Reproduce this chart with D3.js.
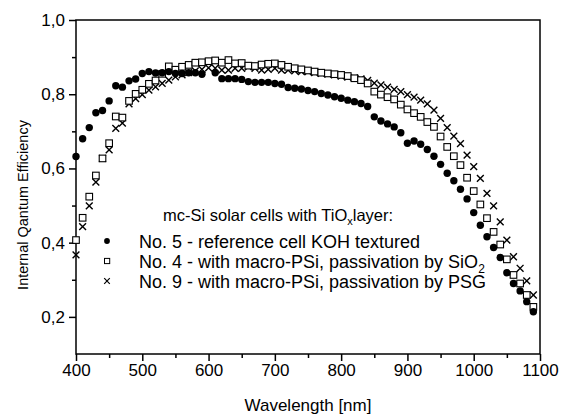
<!DOCTYPE html>
<html>
<head>
<meta charset="utf-8">
<script src="https://cdn.jsdelivr.net/npm/d3@7"></script>
<style>
  body { margin: 0; background: #fff; }
  text { font-family: "Liberation Sans", Arial, sans-serif; fill: #000; }
</style>
</head>
<body>
<div id="chart"></div>
<script>
// wavelength grid [nm]
var wl = [400,410,420,430,440,450,460,470,480,490,500,510,520,530,540,550,560,570,580,590,600,
  610,620,630,640,650,660,670,680,690,700,710,720,730,740,750,760,770,780,790,800,
  810,820,830,840,850,860,870,880,890,900,910,920,930,940,950,960,970,980,990,1000,
  1010,1020,1030,1040,1050,1060,1070,1080,1090];

// No. 5 - reference (filled circles), null = no point
var iqe5 = [0.632,0.680,0.710,0.750,0.756,0.782,0.823,0.819,0.836,0.841,0.856,0.861,0.857,0.858,0.861,0.856,0.856,0.858,0.858,0.854,null,
  0.858,0.842,0.842,0.842,0.840,0.834,0.832,0.832,0.832,0.829,0.827,0.818,0.816,0.814,0.810,0.807,0.802,0.798,0.793,0.789,
  0.784,0.780,0.775,0.767,0.739,0.728,0.720,0.712,0.696,0.668,0.674,0.665,0.651,0.633,0.611,0.587,0.567,0.544,0.518,0.481,
  0.447,0.416,0.387,0.360,0.319,0.290,0.270,0.241,0.214];

// No. 4 - SiO2 (open squares)
var iqe4 = [0.407,0.467,0.524,0.581,0.627,0.668,0.740,0.737,0.782,0.801,0.812,0.828,0.837,0.855,0.875,0.866,0.874,0.879,0.885,0.886,0.889,
  0.891,0.885,0.892,0.883,0.884,0.877,0.876,0.880,0.882,0.883,0.879,0.874,0.870,0.867,0.864,0.861,0.858,0.856,0.854,0.852,
  0.849,0.843,0.838,0.829,0.807,0.799,0.792,0.786,0.772,0.759,0.749,0.739,0.725,0.712,0.686,0.658,0.633,0.609,0.575,0.539,
  0.503,0.466,0.429,0.395,0.355,0.313,0.290,0.259,0.227];

// No. 9 - PSG (crosses)
var iqe9 = [0.367,0.443,0.499,0.563,0.627,0.650,0.708,0.722,0.774,0.788,0.799,0.811,0.820,0.829,0.838,0.847,0.852,0.858,0.863,0.867,0.871,
  0.870,0.865,0.865,0.870,0.870,0.874,0.870,0.865,0.867,0.870,0.865,0.865,0.863,0.861,0.861,0.858,0.856,0.854,0.852,0.849,
  0.846,0.844,0.841,0.837,0.830,0.825,0.819,0.813,0.807,0.799,0.792,0.784,0.774,0.757,0.735,0.710,0.687,0.667,0.636,0.605,
  0.573,0.533,0.499,0.456,0.407,0.362,0.331,0.297,0.259];

var xTicks = [400,500,600,700,800,900,1000,1100];
var yTicks = [0.2,0.4,0.6,0.8,1.0];

var W = 566, H = 419;
var margin = {top: 20, right: 26, bottom: 65, left: 76},
    width = W - margin.left - margin.right,
    height = H - margin.top - margin.bottom;

var svg = d3.select("#chart").append("svg")
    .attr("width", W).attr("height", H);
var g = svg.append("g")
    .attr("transform", "translate(" + margin.left + "," + margin.top + ")");

var x = d3.scaleLinear().domain([400, 1100]).range([0, width]);
var y = d3.scaleLinear().domain([0.1, 1.0]).range([height, 0]);
var fmt = function(d) { return d3.format(".1f")(d).replace(".", ","); };

// frame
g.append("rect").attr("width", width).attr("height", height)
  .attr("fill", "none").attr("stroke", "#000").attr("stroke-width", 1.5);

// minor ticks
var xMinor = d3.range(450, 1100, 100), yMinor = [0.3, 0.5, 0.7, 0.9];
g.append("g").attr("transform", "translate(0," + height + ")")
  .call(d3.axisBottom(x).tickValues(xMinor).tickSize(4).tickFormat(""))
  .call(function(a){ a.select(".domain").remove(); a.selectAll("line").attr("stroke-width", 1.5); });
g.append("g")
  .call(d3.axisLeft(y).tickValues(yMinor).tickSize(4).tickFormat(""))
  .call(function(a){ a.select(".domain").remove(); a.selectAll("line").attr("stroke-width", 1.5); });

// major axes
var xAx = g.append("g").attr("transform", "translate(0," + height + ")")
  .call(d3.axisBottom(x).tickValues(xTicks).tickSize(7).tickPadding(3).tickFormat(d3.format("d")));
var yAx = g.append("g")
  .call(d3.axisLeft(y).tickValues(yTicks).tickSize(7).tickPadding(4).tickFormat(fmt));
[xAx, yAx].forEach(function(a){
  a.select(".domain").remove();
  a.selectAll("line").attr("stroke-width", 1.5);
  a.selectAll("text").style("font-size", "17px").style("font-family", "'Liberation Sans', Arial, sans-serif");
});

// axis titles
svg.append("text").attr("x", margin.left + width / 2).attr("y", 411)
  .attr("text-anchor", "middle").style("font-size", "17px").text("Wavelength [nm]");
svg.append("text").attr("transform", "translate(28,205) rotate(-90)")
  .attr("text-anchor", "middle").style("font-size", "14.5px").text("Internal Qantum Efficiency");

// data marks
function pts(vals) {
  return wl.map(function(d, i){ return {w: d, v: vals[i]}; })
           .filter(function(d){ return d.v != null; });
}
function crossPath(s) {
  return "M" + (-s) + "," + (-s) + "L" + s + "," + s + "M" + (-s) + "," + s + "L" + s + "," + (-s);
}

g.selectAll("path.c9").data(pts(iqe9)).enter().append("path")
  .attr("class", "c9")
  .attr("transform", function(d){ return "translate(" + x(d.w) + "," + y(d.v) + ")"; })
  .attr("d", crossPath(3.4)).attr("stroke", "#000").attr("stroke-width", 1.4).attr("fill", "none");

g.selectAll("rect.s4").data(pts(iqe4)).enter().append("rect")
  .attr("class", "s4")
  .attr("x", function(d){ return x(d.w) - 3.3; })
  .attr("y", function(d){ return y(d.v) - 3.3; })
  .attr("width", 6.6).attr("height", 6.6)
  .attr("fill", "#fff").attr("stroke", "#000").attr("stroke-width", 1.1);

g.selectAll("circle.c5").data(pts(iqe5)).enter().append("circle")
  .attr("class", "c5")
  .attr("cx", function(d){ return x(d.w); })
  .attr("cy", function(d){ return y(d.v); })
  .attr("r", 3.7).attr("fill", "#000");

// legend
var lg = svg.append("g");
var title = lg.append("text").attr("x", 163).attr("y", 221).style("font-size", "16.5px");
title.append("tspan").text("mc-Si solar cells with TiO");
title.append("tspan").attr("dy", 4).style("font-size", "11px").text("x");
title.append("tspan").attr("dy", -4).text("layer:");

var entries = [
  {label: "No. 5 - reference cell KOH textured", sub: null, y: 241},
  {label: "No. 4 - with macro-PSi, passivation by SiO", sub: "2", y: 261},
  {label: "No. 9 - with macro-PSi, passivation by PSG", sub: null, y: 281}
];
entries.forEach(function(e, i){
  var t = lg.append("text").attr("x", 139).attr("y", e.y + 6.5).style("font-size", "18px");
  t.append("tspan").text(e.label);
  if (e.sub) t.append("tspan").attr("dy", 5).style("font-size", "12px").text(e.sub);
  if (i === 0) lg.append("circle").attr("cx", 107).attr("cy", e.y).attr("r", 2.9).attr("fill", "#000");
  if (i === 1) lg.append("rect").attr("x", 104.5).attr("y", e.y - 2.6).attr("width", 5.2).attr("height", 5.2)
    .attr("fill", "#fff").attr("stroke", "#000").attr("stroke-width", 1);
  if (i === 2) lg.append("path").attr("transform", "translate(107," + e.y + ")")
    .attr("d", crossPath(2.8)).attr("stroke", "#000").attr("stroke-width", 1.2);
});
</script>
</body>
</html>
